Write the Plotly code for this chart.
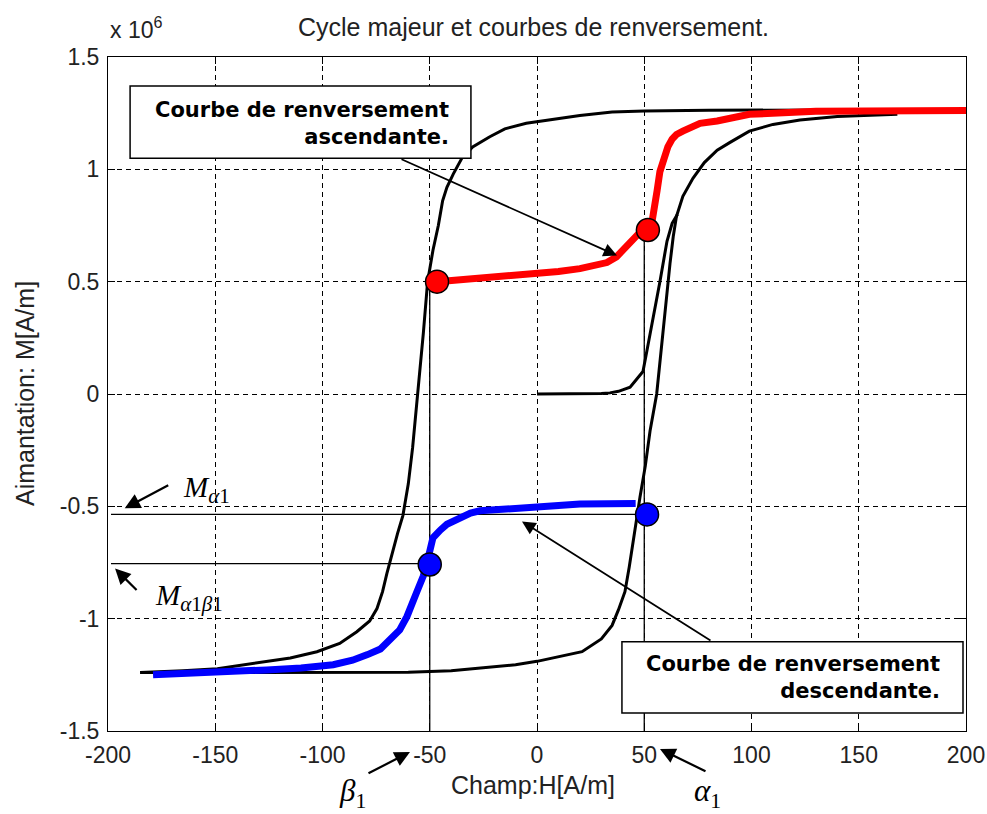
import plotly.graph_objects as go

# Field H [A/m] and magnetisation M [x 10^6 A/m]

# Major loop, descending branch (positive to negative saturation)
H_desc = [170, 140, 110, 80, 50, 35, 20, 5, -5, -15, -22, -30, -35, -39, -42, -44,
          -46, -48.5, -51, -53, -55.5, -58, -60, -62.5, -65, -67, -70, -72, -74.6,
          -78, -84, -92, -102.6, -115, -126, -140, -149, -165, -185]
M_desc = [1.265, 1.265, 1.265, 1.263, 1.26, 1.255, 1.24, 1.22, 1.205, 1.18, 1.145,
          1.10, 1.05, 0.98, 0.92, 0.86, 0.75, 0.64, 0.50, 0.27, 0.0, -0.24, -0.40,
          -0.54, -0.62, -0.69, -0.80, -0.88, -0.955, -1.01, -1.058, -1.11, -1.147,
          -1.175, -1.19, -1.212, -1.223, -1.232, -1.24]

# Major loop, ascending branch (negative to positive saturation)
H_asc = [-185, -150, -120, -90, -60, -40, -25, -10, 0, 10, 21, 30, 35, 38, 41, 43,
         44.8, 46.5, 48, 50.5, 52.7, 55.8, 58.7, 62, 63.5, 65, 68, 72.7, 78, 84, 90,
         99, 110, 122.6, 140, 168]
M_asc = [-1.24, -1.24, -1.24, -1.24, -1.238, -1.232, -1.22, -1.205, -1.19, -1.17,
         -1.147, -1.09, -1.03, -0.96, -0.88, -0.77, -0.656, -0.55, -0.46, -0.32,
         -0.165, 0.0, 0.28, 0.58, 0.70, 0.79, 0.88, 0.96, 1.03, 1.085, 1.12, 1.17,
         1.20, 1.22, 1.235, 1.245]

# First magnetisation curve
H_init = [0, 10, 20, 30, 34, 38, 43.4, 47, 49.4, 51, 54, 57.3, 60.6, 63, 65.5]
M_init = [0, 0, 0, 0.002, 0.005, 0.012, 0.03, 0.07, 0.10, 0.18, 0.33, 0.50, 0.68,
          0.76, 0.80]

# Ascending reversal curve (red)
H_red = [-46.6, -40, -30, -20, -10, 0, 10, 20, 27, 32.6, 37, 40, 43, 45, 47.5, 50,
         51.7, 53.5, 55, 56, 57.3, 58.7, 61, 63, 65, 68, 72, 76, 84, 99, 130, 160, 200]
M_red = [0.50, 0.505, 0.512, 0.518, 0.527, 0.536, 0.545, 0.558, 0.57, 0.585, 0.61,
         0.64, 0.675, 0.70, 0.715, 0.725, 0.73, 0.76, 0.83, 0.906, 0.99, 1.04, 1.10,
         1.135, 1.155, 1.17, 1.19, 1.205, 1.215, 1.245, 1.258, 1.26, 1.262]

# Descending reversal curve (blue)
H_blue = [46, 35, 20, 5, -11, -20, -26.6, -31, -34.5, -39, -42, -45, -48.5, -50,
          -51.5, -53, -56, -58, -60.6, -64, -68.5, -73, -79, -86, -95, -110, -126,
          -149, -165, -179]
M_blue = [-0.487, -0.488, -0.49, -0.50, -0.508, -0.515, -0.52, -0.53, -0.545, -0.567,
          -0.58, -0.605, -0.64, -0.70, -0.76, -0.81, -0.88, -0.93, -0.99, -1.05,
          -1.09, -1.135, -1.16, -1.185, -1.205, -1.22, -1.228, -1.237, -1.245, -1.25]

# Reversal points
H_red_pts = [-46.6, 51.7]
M_red_pts = [0.50, 0.73]
H_blue_pts = [51.3, -50]
M_blue_pts = [-0.536, -0.759]

# Reversal fields and magnetisations
alpha1 = 50
beta1 = -50
M_alpha1 = -0.536
M_alpha1_beta1 = -0.755

x_ticks = [-200, -150, -100, -50, 0, 50, 100, 150, 200]
x_tick_labels = ["-200", "-150", "-100", "-50", "0", "50", "100", "150", "200"]
y_ticks = [-1.5, -1, -0.5, 0, 0.5, 1, 1.5]
y_tick_labels = ["-1.5", "-1", "-0.5", "0", "0.5", "1", "1.5"]

fig = go.Figure()

thin = dict(color="black", width=1.3)
# guide lines for the reversal points
fig.add_trace(go.Scatter(x=[-198.6, alpha1], y=[M_alpha1, M_alpha1], mode="lines", line=thin))
fig.add_trace(go.Scatter(x=[-198.6, beta1], y=[M_alpha1_beta1, M_alpha1_beta1], mode="lines", line=thin))
fig.add_trace(go.Scatter(x=[beta1, beta1], y=[M_red_pts[0], -1.5], mode="lines", line=thin))
fig.add_trace(go.Scatter(x=[alpha1, alpha1], y=[M_red_pts[1], -1.5], mode="lines", line=thin))

black = dict(color="black", width=3)
fig.add_trace(go.Scatter(x=H_desc, y=M_desc, mode="lines", line=black))
fig.add_trace(go.Scatter(x=H_asc, y=M_asc, mode="lines", line=black))
fig.add_trace(go.Scatter(x=H_init, y=M_init, mode="lines", line=black))

fig.add_trace(go.Scatter(x=H_red, y=M_red, mode="lines", line=dict(color="#ff0000", width=7)))
fig.add_trace(go.Scatter(x=H_blue, y=M_blue, mode="lines", line=dict(color="#0000ff", width=7)))

fig.add_trace(go.Scatter(x=H_red_pts, y=M_red_pts, mode="markers",
                         marker=dict(size=23, color="#ff0000", line=dict(color="black", width=1.5))))
fig.add_trace(go.Scatter(x=H_blue_pts, y=M_blue_pts, mode="markers",
                         marker=dict(size=23, color="#0000ff", line=dict(color="black", width=1.5))))

tick_font = dict(family="Liberation Sans, Arial, sans-serif", size=23, color="#222")
label_font = dict(family="Liberation Sans, Arial, sans-serif", size=25, color="#222")
common_axis = dict(showline=True, linecolor="black", linewidth=1, mirror="ticks",
                   ticks="inside", ticklen=7, tickcolor="black", tickwidth=1,
                   showgrid=True, gridcolor="black", gridwidth=1, griddash="5px,4px",
                   zeroline=False, tickfont=tick_font, automargin=False)

fig.update_layout(
    width=987, height=814,
    margin=dict(l=108, r=21, t=57, b=83),
    paper_bgcolor="white", plot_bgcolor="white",
    showlegend=False,
    xaxis=dict(range=[-200, 200], tickvals=x_ticks, ticktext=x_tick_labels,
               ticklabelstandoff=3, **common_axis),
    yaxis=dict(range=[-1.5, 1.5], tickvals=y_ticks, ticktext=y_tick_labels,
               ticklabelstandoff=3, **common_axis),
)

# Call-out boxes
box_line = dict(color="black", width=1.5)
fig.add_shape(type="rect", xref="x", yref="y", x0=-189.7, x1=-30.8, y0=1.049, y1=1.371,
              fillcolor="white", line=box_line, layer="above")
fig.add_shape(type="rect", xref="x", yref="y", x0=39.6, x1=198.6, y0=-1.42, y1=-1.103,
              fillcolor="white", line=box_line, layer="above")

box_font = dict(family="DejaVu Sans, Verdana, sans-serif", size=21, color="black")
serif = "Liberation Serif, Times New Roman, serif"
sub = "<span style='font-size:21px'>{}</span>"
arrow = dict(text="", showarrow=True, arrowhead=2, arrowsize=1.4, arrowwidth=2.2,
             arrowcolor="black")
anns = [
    dict(x=-40.0, y=1.205, xref="x", yref="y", xanchor="right", yanchor="middle",
         text="<b>Courbe de renversement<br>ascendante.</b>", align="right",
         showarrow=False, font=box_font),
    dict(x=188.8, y=-1.263, xref="x", yref="y", xanchor="right", yanchor="middle",
         text="<b>Courbe de renversement<br>descendante.</b>", align="right",
         showarrow=False, font=box_font),
    # arrows from the boxes to the reversal curves
    dict(x=37.3, y=0.616, xref="x", yref="y", ax=-217, ay=-97, text="", showarrow=True,
         arrowhead=2, arrowsize=1.5, arrowwidth=1.8, arrowcolor="black"),
    dict(x=-7, y=-0.567, xref="x", yref="y", ax=190, ay=120, text="", showarrow=True,
         arrowhead=2, arrowsize=1.5, arrowwidth=1.8, arrowcolor="black"),
    # magnetisation labels
    dict(x=-192.2, y=-0.509, xref="x", yref="y", ax=45, ay=-24, **arrow),
    dict(x=-196.7, y=-0.777, xref="x", yref="y", ax=23, ay=23, **arrow),
    dict(x=-166, y=-0.425, xref="x", yref="y", xanchor="left", yanchor="middle",
         text="<i>M</i><sub>" + sub.format("<i>α</i>1") + "</sub>", showarrow=False,
         font=dict(family=serif, size=29, color="black")),
    dict(x=-179, y=-0.905, xref="x", yref="y", xanchor="left", yanchor="middle",
         text="<i>M</i><sub>" + sub.format("<i>α</i>1<i>β</i>1") + "</sub>", showarrow=False,
         font=dict(family=serif, size=29, color="black")),
    # field labels under the axis
    dict(x=(410 - 108) / 858, y=(731 - 752) / 674, xref="paper", yref="paper", ax=-43, ay=22,
         **arrow),
    dict(x=(660 - 108) / 858, y=(731 - 749) / 674, xref="paper", yref="paper", ax=47, ay=23,
         **arrow),
    dict(x=(337 - 108) / 858, y=(731 - 793) / 674, xref="paper", yref="paper",
         xanchor="left", yanchor="middle", text="<i>β</i><sub>1</sub>", showarrow=False,
         font=dict(family=serif, size=31, color="black")),
    dict(x=(692 - 108) / 858, y=(731 - 793) / 674, xref="paper", yref="paper",
         xanchor="left", yanchor="middle", text="<i>α</i><sub>1</sub>", showarrow=False,
         font=dict(family=serif, size=31, color="black")),
    # title, axis labels and exponent
    dict(x=(533 - 108) / 858, y=(731 - 27) / 674, xref="paper", yref="paper",
         xanchor="center", yanchor="middle", text="Cycle majeur et courbes de renversement.",
         showarrow=False, font=label_font),
    dict(x=(533 - 108) / 858, y=(731 - 785) / 674, xref="paper", yref="paper",
         xanchor="center", yanchor="middle", text="Champ:H[A/m]",
         showarrow=False, font=label_font),
    dict(x=(25 - 108) / 858, y=0.5, xref="paper", yref="paper", textangle=-90,
         xanchor="center", yanchor="middle", text="Aimantation: M[A/m]",
         showarrow=False, font=label_font),
    dict(x=0, y=(731 - 45) / 674, xref="paper", yref="paper", xanchor="left", yanchor="bottom",
         text="x 10<sup>6</sup>", showarrow=False, font=tick_font),
]
fig.update_layout(annotations=anns)

fig.write_html("out.html")
